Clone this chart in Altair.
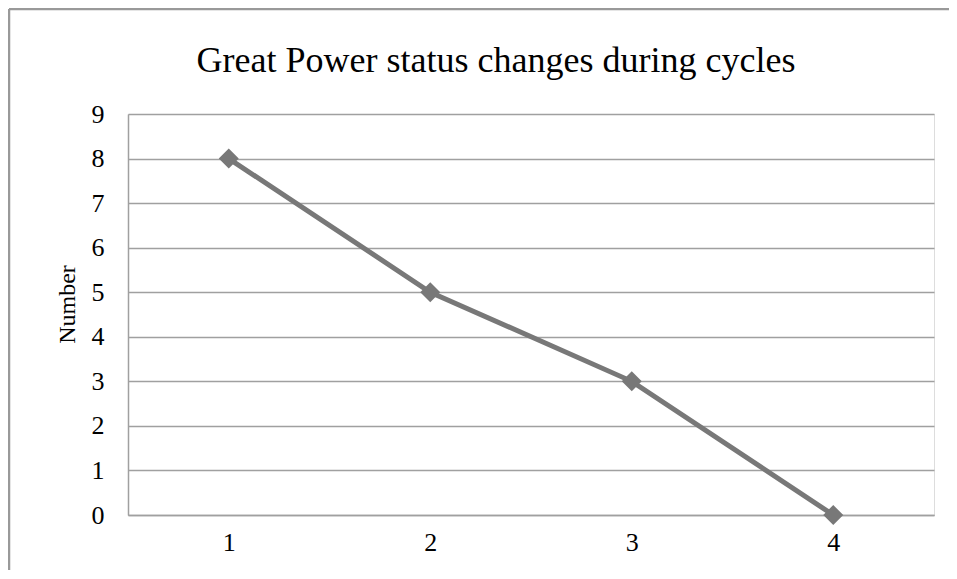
import altair as alt
import pandas as pd

cycles = ["1", "2", "3", "4"]
changes = [8, 5, 3, 0]
title_text = ["Great Power status changes during cycles"]
y_title = "Number"

df = pd.DataFrame({"cycle": cycles, "value": changes})

W, H = 806, 401
PL, PT = 120, 106

x = alt.X("cycle:N", sort=cycles, title=None,
          scale=alt.Scale(paddingInner=0, paddingOuter=0),
          axis=alt.Axis(labelAngle=0, ticks=False, domain=True, domainColor="#a0a0a0",
                        domainWidth=1.5, labelFont="Liberation Serif", labelFontSize=26,
                        labelColor="#000", labelPadding=14, grid=False))
y = alt.Y("value:Q", title=y_title,
          scale=alt.Scale(domain=[0, 9], nice=False),
          axis=alt.Axis(values=list(range(10)), ticks=False, domain=True, domainColor="#a0a0a0",
                        domainWidth=1.5, gridColor="#a0a0a0", gridWidth=1.5,
                        labelFont="Liberation Serif", labelFontSize=26, labelColor="#000",
                        labelPadding=24, titleFont="Liberation Serif", titleFontSize=24,
                        titleFontWeight="normal", titleColor="#000", titlePadding=12,
                        titleY=190))

line = alt.Chart(df).mark_line(color="#787878", strokeWidth=5).encode(x=x, y=y)
pts = alt.Chart(df).mark_point(shape="diamond", filled=True, size=400, opacity=1,
                                color="#787878").encode(x=x, y=y)

frame = pd.DataFrame({"a": [0]})
top_border = alt.Chart(frame).mark_rule(color="#999999", strokeWidth=2.5).encode(
    x=alt.value(-PL + 1), x2=alt.value(W + 40), y=alt.value(-PT + 1))
left_border = alt.Chart(frame).mark_rule(color="#999999", strokeWidth=2.5).encode(
    x=alt.value(-PL + 1), y=alt.value(-PT + 1), y2=alt.value(H + 80))

tdf = pd.DataFrame({"t": title_text})
title = alt.Chart(tdf).mark_text(font="Liberation Serif", fontSize=36, color="#000",
                                  align="center", baseline="alphabetic").encode(
    text="t:N", x=alt.value(368), y=alt.value(-42))

chart = alt.layer(top_border, left_border, title, line, pts).properties(
    width=W, height=H,
    autosize=alt.AutoSizeParams(type="none"),
    padding={"left": PL, "top": PT, "right": 15, "bottom": 55},
).configure_view(stroke=None).configure(background="white")

chart.save("out.html", embed_options={"renderer": "svg", "actions": False})
